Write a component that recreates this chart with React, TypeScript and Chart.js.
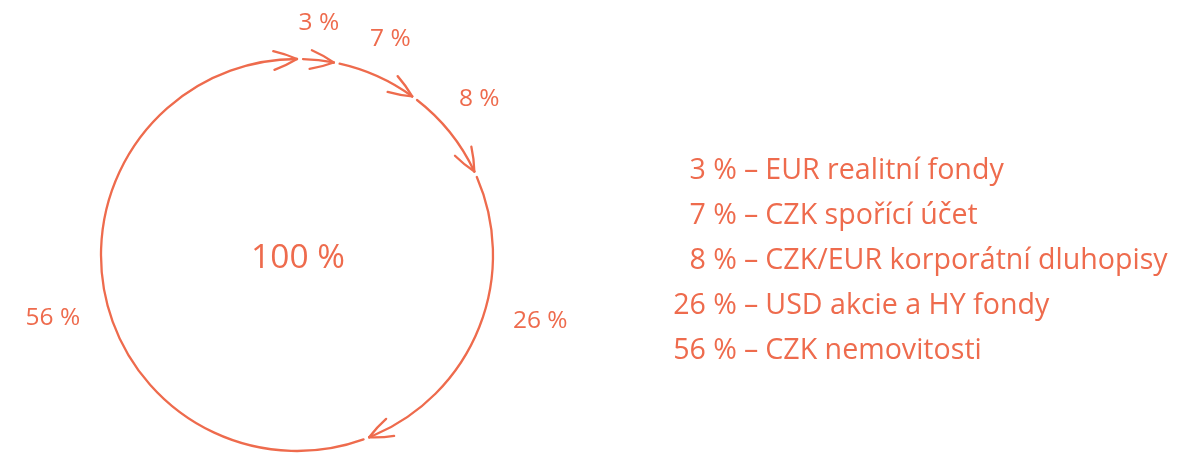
import React, { useEffect, useRef } from "react";
import { Chart, registerables } from "chart.js";

Chart.register(...registerables);

// ---- data ----
const shares = [3, 7, 8, 26, 56];
const shareLabels = ["3 %", "7 %", "8 %", "26 %", "56 %"];
const categories = [
  "EUR realitní fondy",
  "CZK spořící účet",
  "CZK/EUR korporátní dluhopisy",
  "USD akcie a HY fondy",
  "CZK nemovitosti",
];
const totalLabel = "100 %";

// ---- style ----
const COLOR = "#EE6B4D";
const FONT = "'Open Sans', sans-serif";

const arrowRing = {
  id: "arrowRing",
  afterDatasetsDraw(chart: any, _args: any, opts: any) {
    const meta = chart.getDatasetMeta(0);
    const ctx: CanvasRenderingContext2D = chart.ctx;
    ctx.save();
    ctx.strokeStyle = COLOR;
    ctx.fillStyle = COLOR;
    ctx.lineWidth = opts.lineWidth;
    ctx.lineCap = "round";
    ctx.lineJoin = "round";
    let cx = 0, cy = 0;
    meta.data.forEach((arc: any, i: number) => {
      const { x, y, startAngle, endAngle, outerRadius } = arc.getProps(
        ["x", "y", "startAngle", "endAngle", "outerRadius"],
        true
      );
      cx = x; cy = y;
      const r = outerRadius - 1;
      const gap = opts.gapPx / r;
      const a0 = startAngle + gap;
      const a1 = endAngle;
      ctx.beginPath();
      ctx.arc(x, y, r, a0, a1);
      ctx.stroke();
      // arrow head at the end of the segment
      const tx = x + r * Math.cos(a1);
      const ty = y + r * Math.sin(a1);
      const L = opts.headLen;
      const back = a1 - Math.PI / 2 - L / r / 2;
      for (const s of [-1, 1]) {
        const ang = back + s * opts.headAngle;
        const ex = tx + L * Math.cos(ang);
        const ey = ty + L * Math.sin(ang);
        const mx = tx + (L / 2) * Math.cos(ang) + s * 1.2 * Math.cos(ang + Math.PI / 2);
        const my = ty + (L / 2) * Math.sin(ang) + s * 1.2 * Math.sin(ang + Math.PI / 2);
        ctx.beginPath();
        ctx.moveTo(tx, ty);
        ctx.quadraticCurveTo(mx, my, ex, ey);
        ctx.stroke();
      }
      // value label
      const shift = (opts.labelShift[i] || 0) * Math.PI / 180;
      const mid = (startAngle + endAngle) / 2 + shift;
      const lr = r + opts.labelDist[i];
      ctx.font = `${opts.labelSize}px ${FONT}`;
      ctx.textAlign = "center";
      ctx.textBaseline = "middle";
      ctx.fillText(shareLabels[i], x + lr * Math.cos(mid), y + lr * Math.sin(mid));
    });
    ctx.font = `${opts.centerSize}px ${FONT}`;
    ctx.textAlign = "center";
    ctx.textBaseline = "middle";
    ctx.fillText(totalLabel, cx + 1, cy + 3);
    ctx.restore();
  },
};

export default function App() {
  const ref = useRef<HTMLCanvasElement | null>(null);
  useEffect(() => {
    if (!ref.current) return;
    const chart = new Chart(ref.current, {
      type: "doughnut",
      data: {
        labels: categories,
        datasets: [
          {
            data: shares,
            backgroundColor: "rgba(0,0,0,0)",
            borderWidth: 0,
            hoverOffset: 0,
          },
        ],
      },
      options: {
        responsive: true,
        maintainAspectRatio: false,
        animation: false,
        cutout: "99%",
        events: [],
        layout: { padding: { left: 100, right: 707, top: 58, bottom: 1 } },
        plugins: {
          legend: { display: false },
          tooltip: { enabled: false },
          arrowRing: {
            lineWidth: 2.3,
            gapPx: 6,
            headLen: 25,
            headAngle: (22 * Math.PI) / 180,
            labelShift: [0, 0, -1, -6.5, -3.6],
            labelDist: [37, 39, 44, 56, 56],
            labelSize: 24.5,
            centerSize: 33.5,
          },
        } as any,
      },
      plugins: [arrowRing],
    });
    return () => chart.destroy();
  }, []);

  return (
    <div
      style={{
        position: "fixed",
        left: 0,
        top: 0,
        width: 1201,
        height: 453,
        background: "#fff",
        overflow: "hidden",
      }}
    >
      <div style={{ position: "absolute", left: 0, top: 0, width: 1201, height: 453 }}>
        <canvas ref={ref} />
      </div>
      <div
        style={{
          position: "absolute",
          left: 660,
          top: 145,
          fontFamily: FONT,
          fontSize: 28.6,
          color: COLOR,
          whiteSpace: "nowrap",
        }}
      >
        {categories.map((c, i) => (
          <div key={c} style={{ display: "flex", height: 45, lineHeight: "45px" }}>
            <span style={{ width: 77, textAlign: "right" }}>{shareLabels[i]}</span>
            <span style={{ marginLeft: 7, marginRight: 7 }}>–</span>
            <span>{c}</span>
          </div>
        ))}
      </div>
    </div>
  );
}
